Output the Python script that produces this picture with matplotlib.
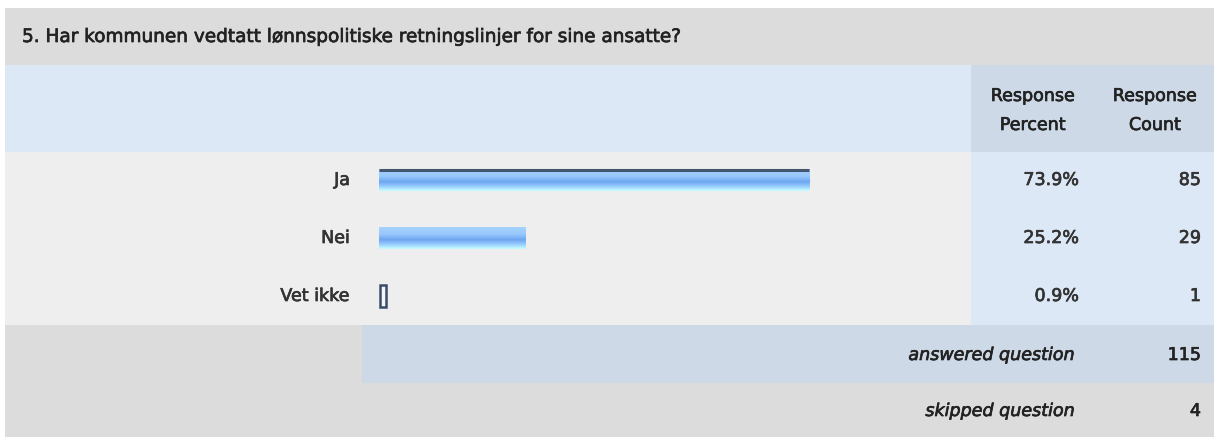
import numpy as np
import matplotlib.pyplot as plt
import matplotlib.patheffects as pe
from matplotlib.patches import Rectangle
from matplotlib.colors import LinearSegmentedColormap

question = "5. Har kommunen vedtatt lønnspolitiske retningslinjer for sine ansatte?"
categories = ['Ja', 'Nei', 'Vet ikke']
percents = [73.9, 25.2, 0.9]
counts = [85, 29, 1]
answered = 115
skipped = 4

W, H = 1214, 437
plt.rcParams['font.family'] = ['DejaVu Sans']
fig = plt.figure(figsize=(W / 100, H / 100), dpi=100)

# table background in pixel coordinates
bg = fig.add_axes([0, 0, 1, 1])
bg.set_xlim(0, W)
bg.set_ylim(H, 0)
bg.axis('off')


def cell(x0, y0, x1, y1, color):
    bg.add_patch(Rectangle((x0, y0), x1 - x0, y1 - y0, facecolor=color, edgecolor='none'))


left, split, right = 5, 971, W
cell(left, 8, right, 65, '#dcdcdc')
cell(left, 65, split, 152, '#dde8f6')
cell(split, 65, right, 152, '#cdd9e6')
cell(left, 152, split, 325, '#eeeeee')
cell(split, 152, right, 325, '#dde8f6')
cell(left, 325, 362, 383, '#dcdcdc')
cell(362, 325, right, 383, '#cdd9e6')
cell(left, 383, right, H, '#dcdcdc')

fs = 12.6


def put(x, y, s, ha, color='#222222', size=fs, **kw):
    t = bg.text(x, y, s, fontsize=size, color=color, ha=ha, va='center', **kw)
    # slightly heavier strokes than the plain regular face
    t.set_path_effects([pe.withStroke(linewidth=0.5, foreground=color)])
    return t


put(22, 37, question, 'left', size=13.3)
put(1033, 96, 'Response', 'center')
put(1033, 125, 'Percent', 'center')
put(1155, 96, 'Response', 'center')
put(1155, 125, 'Count', 'center')

row_y = [180, 238, 296]
for y, cat, p, c in zip(row_y, categories, percents, counts):
    put(350, y, cat, 'right', color='#333333')
    put(1079, y, f'{p:.1f}%', 'right', color='#333333')
    put(1201, y, str(c), 'right', color='#333333')

put(1075, 355, 'answered question', 'right', style='italic')
put(1201, 355, str(answered), 'right')
put(1075, 411, 'skipped question', 'right', style='italic')
put(1201, 411, str(skipped), 'right')

# bar area: 0-100 % spans x 379..961, three rows between y 151 and 325
ax = fig.add_axes([379 / W, 1 - 325 / H, 582 / W, 174 / H])
ax.axis('off')
ypos = np.arange(len(categories))
h = 0.38
bars = ax.barh(ypos, percents, height=h, color='none', edgecolor='none')

grad_cmap = LinearSegmentedColormap.from_list('bar', [
    (0.0, '#a8d4ff'), (0.35, '#98c8fc'), (0.6, '#6ea6f0'),
    (0.8, '#98ccff'), (1.0, '#c8ffff')])
grad = np.linspace(0, 1, 64).reshape(-1, 1)

for i, (bar, p) in enumerate(zip(bars, percents)):
    if p < 2:
        # tiny value: drawn as an outlined box with a minimum width
        ax.add_patch(Rectangle((0.15, i - h / 2), max(p, 1.1), h, facecolor='#f4f6fa',
                               edgecolor='#3b4c68', linewidth=1.8))
        continue
    im = ax.imshow(grad, cmap=grad_cmap, aspect='auto', interpolation='bilinear',
                   extent=(0, p, i + h / 2, i - h / 2), origin='upper')
    im.set_clip_path(bar)
    if i == 0:
        ax.plot([0, p], [i - h / 2 + 0.01, i - h / 2 + 0.01], color='#44556f', lw=2.2,
                solid_capstyle='butt')

ax.set_xlim(0, 100)
ax.set_ylim(len(categories) - 0.5, -0.5)

fig.savefig('out.png', dpi=100)
